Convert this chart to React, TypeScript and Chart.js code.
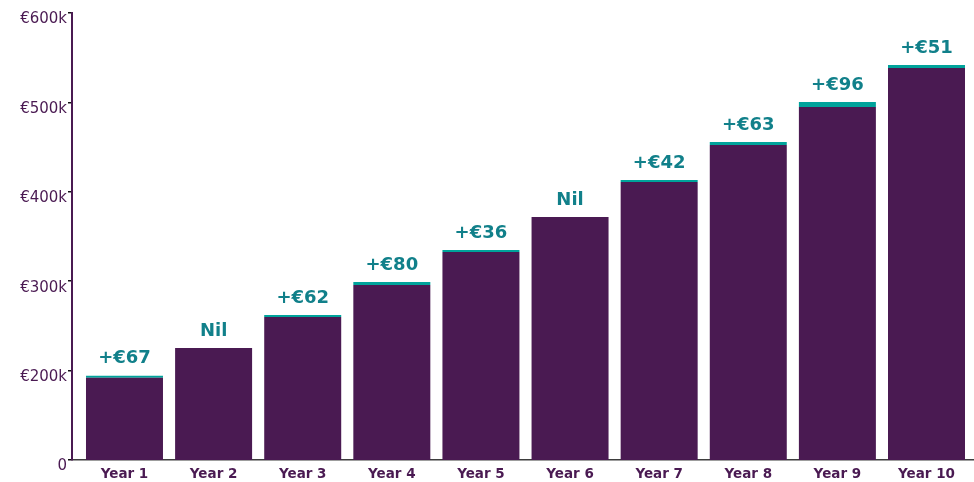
import React, { useEffect, useRef } from "react";
import { Chart, registerables } from "chart.js";

Chart.register(...registerables);

const yearLabels = ["Year 1", "Year 2", "Year 3", "Year 4", "Year 5", "Year 6", "Year 7", "Year 8", "Year 9", "Year 10"];
const baseValues = [192100, 225300, 260000, 295700, 332700, 371800, 411000, 452300, 494900, 538500];
const increaseValues = [2200, 0, 2200, 3400, 2200, 0, 2200, 3400, 5600, 3400];
const increaseLabels = ["+€67", "Nil", "+€62", "+€80", "+€36", "Nil", "+€42", "+€63", "+€96", "+€51"];
const yTickValues = [100000, 200000, 300000, 400000, 500000, 600000];
const yTickLabels = ["0", "€200k", "€300k", "€400k", "€500k", "€600k"];

const PURPLE = "#4a1a52";
const TEAL = "#00a39b";
const TEAL_TEXT = "#11808a";

const labelPlugin = {
  id: "barTopLabels",
  afterDatasetsDraw(chart: any) {
    const meta = chart.getDatasetMeta(1);
    const ctx = chart.ctx;
    ctx.save();
    ctx.font = "bold 18px 'DejaVu Sans'";
    ctx.fillStyle = TEAL_TEXT;
    ctx.textAlign = "center";
    ctx.textBaseline = "middle";
    meta.data.forEach((bar: any, i: number) => {
      ctx.fillText(increaseLabels[i], bar.x, bar.y - 17);
    });
    ctx.restore();
  },
};

export default function App() {
  const ref = useRef<HTMLCanvasElement>(null);
  useEffect(() => {
    document.body.style.margin = "0";
    const chart = new Chart(ref.current!, {
      type: "bar",
      data: {
        datasets: [
          {
            data: baseValues.map((v, i) => ({ x: i, y: v })),
            backgroundColor: PURPLE,
            borderWidth: 0,
            categoryPercentage: 1,
            barPercentage: 0.864,
          },
          {
            data: increaseValues.map((v, i) => ({ x: i, y: v })),
            backgroundColor: TEAL,
            borderWidth: 0,
            categoryPercentage: 1,
            barPercentage: 0.864,
          },
        ],
      },
      options: {
        responsive: false,
        animation: false,
        devicePixelRatio: 1,
        layout: { padding: { top: 13, right: 0, left: 0, bottom: 0 } },
        plugins: { legend: { display: false }, tooltip: { enabled: false } },
        scales: {
          x: {
            type: "linear",
            stacked: true,
            offset: false,
            min: -0.589,
            max: 9.533,
            grid: { display: false, drawTicks: false, offset: false },
            border: { display: true, color: "#3d3d3d", width: 1.5 },
            afterBuildTicks: (axis: any) => {
              axis.ticks = yearLabels.map((_, i) => ({ value: i }));
            },
            afterFit: (scale: any) => {
              scale.height = 22;
              scale.paddingLeft = 0;
              scale.paddingRight = 0;
            },
            ticks: {
              padding: 6,
              color: PURPLE,
              font: { family: "'DejaVu Sans'", size: 13.5, weight: "bold" },
              autoSkip: false,
              maxRotation: 0,
              callback: (v: any) => yearLabels[v] ?? "",
            },
          },
          y: {
            stacked: true,
            min: 100000,
            max: 600000,
            grid: {
              drawOnChartArea: false,
              drawTicks: true,
              tickLength: 4,
              color: "#111111",
              lineWidth: 1.5,
            },
            border: { display: true, color: PURPLE, width: 2 },
            afterBuildTicks: (axis: any) => {
              axis.ticks = yTickValues.map((v) => ({ value: v }));
            },
            afterFit: (scale: any) => {
              scale.width = 72;
              scale.paddingTop = 0;
              scale.paddingBottom = 0;
            },
            ticks: {
              padding: 1,
              labelOffset: 6.5,
              color: PURPLE,
              font: { family: "'DejaVu Sans'", size: 15 },
              callback: (v: any) => {
                const idx = yTickValues.indexOf(v);
                return idx >= 0 ? yTickLabels[idx] : "";
              },
            },
          },
        },
      },
      plugins: [labelPlugin],
    } as any);
    return () => chart.destroy();
  }, []);
  return (
    <div style={{ width: 974, height: 482, position: "relative" }}>
      <canvas ref={ref} width={974} height={482} style={{ display: "block" }} />
    </div>
  );
}
